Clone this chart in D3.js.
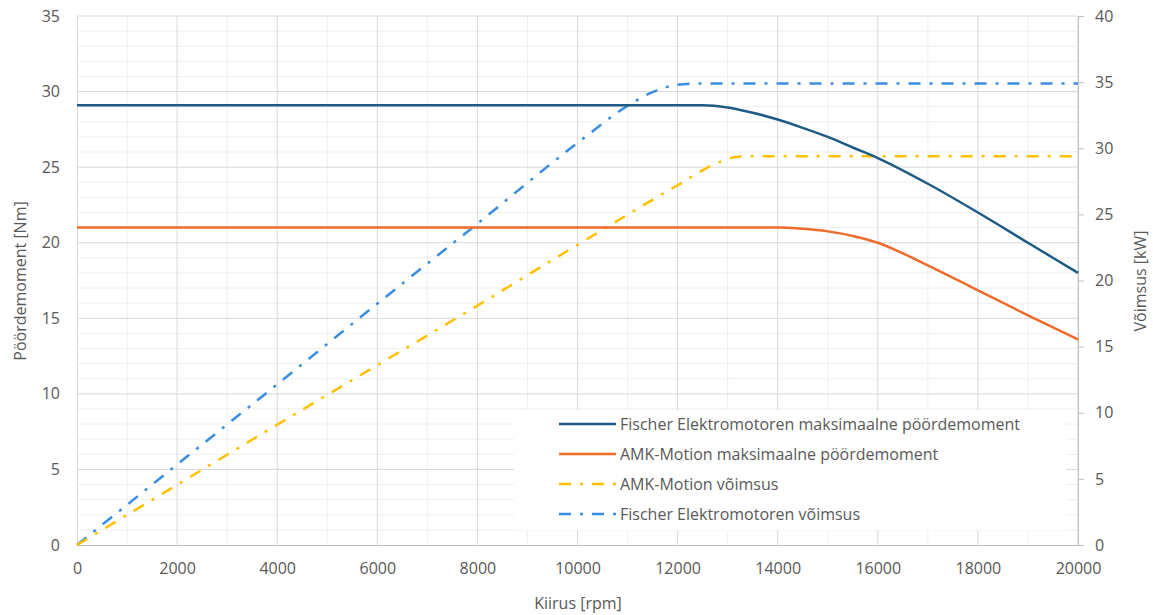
<!DOCTYPE html>
<html><head><meta charset="utf-8">
<script src="https://cdn.jsdelivr.net/npm/d3@7"></script>
<style>body{margin:0;background:#fff}text{font-family:"Open Sans","Liberation Sans",sans-serif;fill:#595959}</style>
</head><body><svg id="c" width="1153" height="615"></svg>
<script>
// Data (rpm)
const fischerTorqueRpm = [0,2000,4000,6000,8000,10000,12000,12500,13000,13500,14000,14500,15000,15500,16000,17000,18000,19000,20000];
const fischerTorque    = [29.1,29.1,29.1,29.1,29.1,29.1,29.1,29.1,28.95,28.6,28.15,27.6,27.0,26.3,25.6,23.9,22.0,20.0,18.0];
const amkTorqueRpm = [0,2000,4000,6000,8000,10000,12000,14000,14500,15000,15500,16000,16500,17000,18000,19000,20000];
const amkTorque    = [21,21,21,21,21,21,21,21,20.92,20.75,20.45,20.0,19.3,18.5,16.85,15.2,13.6];
const amkPowerRpm = [0,2000,4000,6000,8000,10000,12000,12800,13200,13600,14000,16000,18000,20000];
const amkPower    = [0,4.55,9.1,13.6,18.1,22.7,27.2,28.9,29.35,29.4,29.4,29.4,29.4,29.4];
const fischerPowerRpm = [0,2000,4000,6000,8000,10000,11000,11500,12000,12500,13000,14000,16000,18000,20000];
const fischerPower    = [0,6.08,12.15,18.25,24.3,30.4,33.2,34.25,34.8,34.9,34.9,34.9,34.9,34.9,34.9];
const xTicks = [0,2000,4000,6000,8000,10000,12000,14000,16000,18000,20000];
const leftTicks = [0,5,10,15,20,25,30,35];
const rightTicks = [0,5,10,15,20,25,30,35,40];
const legendLabels = ["Fischer Elektromotoren maksimaalne pöördemoment","AMK-Motion maksimaalne pöördemoment","AMK-Motion võimsus","Fischer Elektromotoren võimsus"];
const colors = ["#1d5b86","#ef6b2b","#ffc000","#3a8ee0"];

const svg = d3.select("#c");
const L=77,R=1078,T=16,B=545;
const x = d3.scaleLinear().domain([0,20000]).range([L,R]);
const yL = d3.scaleLinear().domain([0,35]).range([B,T]);
const yR = d3.scaleLinear().domain([0,40]).range([B,T]);

// grid
const g = svg.append("g");
d3.range(1000,20000,2000).forEach(v=>g.append("line").attr("x1",x(v)).attr("x2",x(v)).attr("y1",T).attr("y2",B).attr("stroke","#efefef").attr("stroke-width",1));
d3.range(1,35).filter(v=>v%5!==0).forEach(v=>g.append("line").attr("x1",L).attr("x2",R).attr("y1",yL(v)).attr("y2",yL(v)).attr("stroke","#efefef").attr("stroke-width",1));
xTicks.slice(1).forEach(v=>g.append("line").attr("x1",x(v)).attr("x2",x(v)).attr("y1",T).attr("y2",B).attr("stroke","#d9d9d9").attr("stroke-width",1));
leftTicks.slice(1).forEach(v=>g.append("line").attr("x1",L).attr("x2",R).attr("y1",yL(v)).attr("y2",yL(v)).attr("stroke","#d9d9d9").attr("stroke-width",1));

// axes
const ax = svg.append("g").attr("transform",`translate(0,${B})`).call(d3.axisBottom(x).tickValues(xTicks).tickSize(0).tickPadding(18).tickFormat(d3.format("d")));
const ay = svg.append("g").attr("transform",`translate(${L},0)`).call(d3.axisLeft(yL).tickValues(leftTicks).tickSize(0).tickPadding(17));
const ar = svg.append("g").attr("transform",`translate(${R},0)`).call(d3.axisRight(yR).tickValues(rightTicks).tickSize(6).tickPadding(11));
[ax,ay,ar].forEach(a=>{a.select(".domain").attr("stroke","#bfbfbf");a.selectAll(".tick line").attr("stroke","#bfbfbf");a.selectAll("text").attr("font-size",16).attr("fill","#595959").style("font-family",'"Open Sans","Liberation Sans",sans-serif');});
ay.select(".domain").attr("stroke","#d9d9d9");

// lines
const lineL = d3.line().x(d=>x(d[0])).y(d=>yL(d[1])).curve(d3.curveMonotoneX);
const lineR = d3.line().x(d=>x(d[0])).y(d=>yR(d[1])).curve(d3.curveMonotoneX);
const dash = "12,9,3,9";
svg.append("path").attr("d",lineR(d3.zip(fischerPowerRpm,fischerPower))).attr("fill","none").attr("stroke",colors[3]).attr("stroke-width",2.5).attr("stroke-dasharray",dash);
svg.append("path").attr("d",lineR(d3.zip(amkPowerRpm,amkPower))).attr("fill","none").attr("stroke",colors[2]).attr("stroke-width",2.5).attr("stroke-dasharray",dash);

// legend box
svg.append("rect").attr("x",514).attr("y",410).attr("width",552).attr("height",120).attr("fill","#fff");

svg.append("path").attr("d",lineL(d3.zip(fischerTorqueRpm,fischerTorque))).attr("fill","none").attr("stroke",colors[0]).attr("stroke-width",2.5);
svg.append("path").attr("d",lineL(d3.zip(amkTorqueRpm,amkTorque))).attr("fill","none").attr("stroke",colors[1]).attr("stroke-width",2.5);

// legend
const lg = svg.append("g");
legendLabels.forEach((t,i)=>{
  const yy = 424 + i*30;
  lg.append("line").attr("x1",559).attr("x2",616).attr("y1",yy).attr("y2",yy).attr("stroke",colors[i]).attr("stroke-width",2.5).attr("stroke-dasharray",i>=2?dash:null);
  lg.append("text").attr("x",620).attr("y",yy).attr("dy","0.35em").attr("font-size",16).text(t);
});

// titles
svg.append("text").attr("x",578).attr("y",609).attr("text-anchor","middle").attr("font-size",16).text("Kiirus [rpm]");
svg.append("text").attr("transform","translate(26,281) rotate(-90)").attr("text-anchor","middle").attr("font-size",16).text("Pöördemoment [Nm]");
svg.append("text").attr("transform","translate(1140,281) rotate(-90)").attr("text-anchor","middle").attr("font-size",16).attr("dy","0.35em").text("Võimsus [kW]");
</script></body></html>
